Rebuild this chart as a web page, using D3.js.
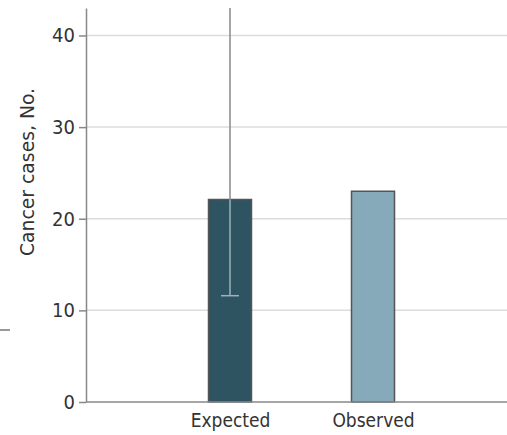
<!DOCTYPE html>
<html lang='en'>
<head>
  <meta charset='utf-8'>
  <script src="https://d3js.org/d3.v7.min.js"></script>
  <style>
    body { margin: 0; background: #fff; }
    text { font-family: "DejaVu Sans Condensed", sans-serif; fill: #333; }
  </style>
</head>
<body>
<div id="chart"></div>
<script>
  // data
  const groups = ["Expected", "Observed"];
  const cases = [22.1, 23.0];
  const ciLow = [11.6, null];
  const ciHigh = [43, null];
  const yTicks = [0, 10, 20, 30, 40];
  const colors = ["#2e5462", "#87aabb"];

  const W = 507, H = 435;
  const margin = {top: 8, right: 0, bottom: 33, left: 86};
  const width = W - margin.left - margin.right,
        height = H - margin.top - margin.bottom;

  const svg = d3.select("#chart").append("svg")
    .attr("width", W).attr("height", H);

  const g = svg.append("g")
    .attr("transform", `translate(${margin.left}, ${margin.top})`);

  const y = d3.scaleLinear().domain([0, 43]).range([height, 0]);
  const x = d3.scalePoint().domain(groups).range([144, 287]);
  const barW = 43;

  // gridlines
  g.append("g").selectAll("line")
    .data(yTicks.filter(d => d > 0))
    .join("line")
      .attr("x1", 0).attr("x2", width)
      .attr("y1", d => y(d)).attr("y2", d => y(d))
      .attr("stroke", "#dcdcdc").attr("stroke-width", 1.5);

  // bars
  g.append("g").selectAll("rect")
    .data(groups)
    .join("rect")
      .attr("x", d => x(d) - barW / 2)
      .attr("y", (d, i) => y(cases[i]))
      .attr("width", barW)
      .attr("height", (d, i) => y(0) - y(cases[i]))
      .attr("fill", (d, i) => colors[i])
      .attr("stroke", "#555").attr("stroke-width", 1.5);

  // error bar (expected)
  groups.forEach((d, i) => {
    if (ciLow[i] == null) return;
    const cx = x(d);
    g.append("line")
      .attr("x1", cx).attr("x2", cx)
      .attr("y1", y(ciHigh[i])).attr("y2", y(cases[i]))
      .attr("stroke", "#888").attr("stroke-width", 1.5);
    g.append("line")
      .attr("x1", cx).attr("x2", cx)
      .attr("y1", y(cases[i])).attr("y2", y(ciLow[i]))
      .attr("stroke", "#9db1b9").attr("stroke-width", 1.5);
    g.append("line")
      .attr("x1", cx - 9).attr("x2", cx + 9)
      .attr("y1", y(ciLow[i])).attr("y2", y(ciLow[i]))
      .attr("stroke", "#9db1b9").attr("stroke-width", 1.5);
  });

  // y axis
  const yAxis = g.append("g")
    .call(d3.axisLeft(y).tickValues(yTicks).tickSize(7).tickPadding(4).tickSizeOuter(0));
  yAxis.select(".domain").attr("stroke", "#888").attr("stroke-width", 1.5);
  yAxis.selectAll(".tick line").attr("stroke", "#888").attr("stroke-width", 1.5);
  yAxis.selectAll(".tick text").style("font-size", "20px").attr("fill", "#333");

  // x axis
  const xAxis = g.append("g")
    .attr("transform", `translate(0, ${height})`)
    .call(d3.axisBottom(x).tickSize(0).tickPadding(12));
  xAxis.select(".domain").attr("d", `M0,0H${width}`).attr("stroke", "#888").attr("stroke-width", 1.5);
  xAxis.selectAll(".tick text").style("font-size", "19px").attr("fill", "#333");

  // y label
  svg.append("text")
    .attr("transform", "translate(34, 172) rotate(-90)")
    .attr("text-anchor", "middle")
    .attr("textLength", 168)
    .attr("lengthAdjust", "spacingAndGlyphs")
    .style("font-size", "20px")
    .text("Cancer cases, No.");

  // stray dash at left
  svg.append("line")
    .attr("x1", 0).attr("x2", 10).attr("y1", 330).attr("y2", 330)
    .attr("stroke", "#999").attr("stroke-width", 2);
</script>
</body>
</html>
